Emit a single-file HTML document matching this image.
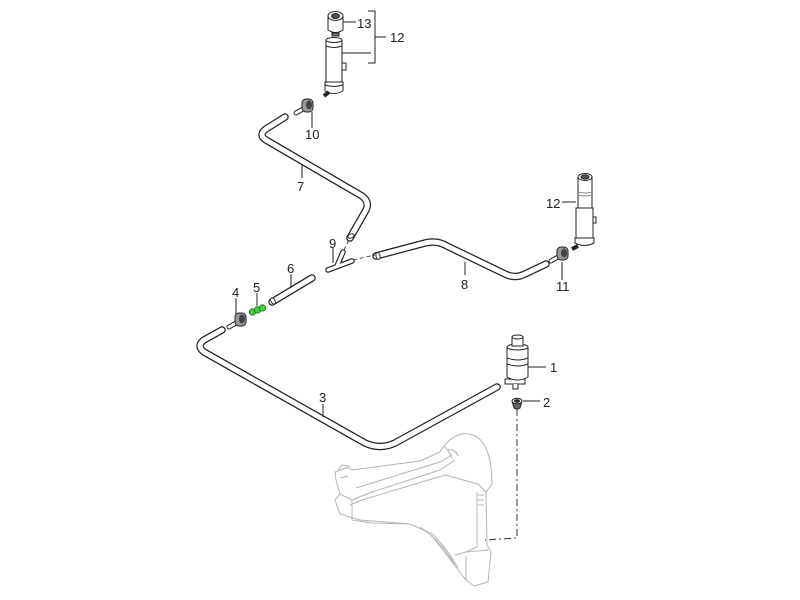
<!DOCTYPE html>
<html><head><meta charset="utf-8"><style>
html,body{margin:0;padding:0;background:#fff;}
svg{display:block}
text{font-family:"Liberation Sans",sans-serif;font-size:13px;fill:#222}
</style></head><body>
<svg width="800" height="600" viewBox="0 0 800 600" xmlns="http://www.w3.org/2000/svg">
<rect width="800" height="600" fill="#fff"/>

<!-- Reservoir (light gray) -->
<g fill="none" stroke="#b4b4b4" stroke-width="1" stroke-linejoin="round">
  <path d="M335,472 L348,467 L352,470 L420,461 L440,452 L444,446 Q452,436 462,434 Q478,432 486,448 Q492,462 492,484 L486,492 L487,545 L491,552 L488,582 L474,586 L466,580 L452,562 Q440,545 428,532 L410,524 L360,520 L340,514 L335,500 L340,494 L336,480 Z" fill="#fff"/>
  <path d="M340,494 L352,500 L352,520"/>
  <path d="M352,500 L372,492 L440,470 L455,460"/>
  <path d="M350,505 L362,500 L445,475 L478,484 L486,492"/>
  <path d="M356,488 L440,462 L452,455"/>
  <path d="M352,520 L372,523 L410,524"/>
  <path d="M477,492 L477,547 L466,552 L455,555"/>
  <path d="M466,552 L488,550"/>
  <path d="M466,580 L466,556"/>
  <path d="M420,527 Q440,540 455,565"/>
  <path d="M430,532 Q445,545 458,568"/>
  <path d="M444,446 Q450,452 452,458 M447,450 Q455,448 458,456"/>
  <path d="M338,470 L342,465 L350,466 M340,478 L348,476"/>
  <path d="M478,495 L484,495 M478,500 L484,500 M478,505 L484,505"/>
</g>
<!-- dashed line from grommet 2 -->
<path d="M517,409 L517,538 L485,540" fill="none" stroke="#333" stroke-width="1" stroke-dasharray="7,3,2,3"/>

<!-- Tubes -->
<g fill="none" stroke-linejoin="round" stroke-linecap="round">
  <g stroke="#222" stroke-width="7.5">
    <path d="M285,117 L266,129 Q258,135 266,140 L362,196 Q370,202 366,210 L350,238"/>
    <path d="M376,256 L425,243 Q437,240 447,246 L505,274 Q515,279 525,274 L546,264"/>
    <path d="M222,330 L204,340 Q196,346 204,352 L365,443 Q380,450 395,443 L497,387"/>
    <path d="M272,302 L312,278"/>
  </g>
  <g stroke="#fff" stroke-width="5">
    <path d="M285,117 L266,129 Q258,135 266,140 L362,196 Q370,202 366,210 L350,238"/>
    <path d="M376,256 L425,243 Q437,240 447,246 L505,274 Q515,279 525,274 L546,264"/>
    <path d="M222,330 L204,340 Q196,346 204,352 L365,443 Q380,450 395,443 L497,387"/>
    <path d="M272,302 L312,278"/>
  </g>
</g>
<g fill="#fff" stroke="#222" stroke-width="0.9">
  <ellipse cx="351" cy="236" rx="3.3" ry="2" transform="rotate(-20 351 236)"/>
  <ellipse cx="378" cy="256" rx="2" ry="3.5" transform="rotate(-15 378 256)"/>
  <ellipse cx="273" cy="301" rx="2" ry="3.4" transform="rotate(-30 273 301)"/>
</g>

<!-- Fitting 9 (Y connector) -->
<g fill="none" stroke-linecap="round">
  <path d="M328,270 L352,261 M337,266 L343,252" stroke="#222" stroke-width="5.5"/>
  <path d="M328,270 L352,261 M337,266 L343,252" stroke="#fff" stroke-width="3.2"/>
</g>
<path d="M353,260 L375,255 M344,250 L349,240" stroke="#444" stroke-width="1" stroke-dasharray="4,3" fill="none"/>

<!-- Fittings 10, 11, 4 -->
<g id="f10" transform="translate(307,106)">
  <path d="M-11,7 L-4,3" stroke="#222" stroke-width="5" stroke-linecap="round"/>
  <path d="M-11,7 L-4,3" stroke="#fff" stroke-width="3" stroke-linecap="round"/>
  <rect x="-5" y="-7" width="11" height="13" rx="4" fill="#999" stroke="#222"/>
  <ellipse cx="2" cy="-1" rx="3" ry="4.5" fill="#444"/>
</g>
<g transform="translate(562,254)">
  <path d="M-11,7 L-4,3" stroke="#222" stroke-width="5" stroke-linecap="round"/>
  <path d="M-11,7 L-4,3" stroke="#fff" stroke-width="3" stroke-linecap="round"/>
  <rect x="-5" y="-7" width="11" height="13" rx="4" fill="#999" stroke="#222"/>
  <ellipse cx="2" cy="-1" rx="3" ry="4.5" fill="#444"/>
</g>
<g transform="translate(240,320)">
  <path d="M-11,7 L-4,3" stroke="#222" stroke-width="5" stroke-linecap="round"/>
  <path d="M-11,7 L-4,3" stroke="#fff" stroke-width="3" stroke-linecap="round"/>
  <rect x="-5" y="-7" width="11" height="13" rx="4" fill="#999" stroke="#222"/>
  <ellipse cx="2" cy="-1" rx="3" ry="4.5" fill="#444"/>
</g>

<!-- Green part 5 -->
<g stroke="#1a6a1a" stroke-width="0.8" fill="#3fd23f">
  <circle cx="252.5" cy="312" r="3.2"/>
  <circle cx="257.5" cy="310" r="3.2"/>
  <circle cx="262.5" cy="308" r="3.2"/>
</g>

<!-- Top nozzle 12/13 -->
<g fill="#fff" stroke="#222" stroke-width="1">
  <path d="M328,16 L328,30 Q335.5,35 343,30 L343,16"/>
  <ellipse cx="335.5" cy="16" rx="7.5" ry="4.5"/>
  <ellipse cx="335.5" cy="16" rx="4" ry="2.5" fill="#555"/>
  <rect x="332" y="33" width="7" height="3" fill="#777"/>
  <path d="M326,40 L326,82 L342,82 L342,40"/>
  <ellipse cx="334" cy="40" rx="8" ry="2.5"/>
  <path d="M326,46 Q334,49 342,46" fill="none"/>
  <path d="M325,82 L325,91 Q334,96 343,91 L343,82 Z"/>
  <path d="M325,85 Q334,88 343,85" fill="none"/>
  <rect x="342" y="63" width="4" height="7"/>
  <path d="M324,96 L329,92" stroke-width="4" stroke="#222"/>
</g>
<!-- Right nozzle 12 -->
<g fill="#fff" stroke="#222" stroke-width="1">
  <path d="M578,177 L578,208 L592,208 L592,177"/>
  <ellipse cx="585" cy="177" rx="7" ry="3.5"/>
  <ellipse cx="585" cy="177" rx="4" ry="2" fill="#555"/>
  <path d="M578,192 Q585,194 592,192 M578,195 Q585,197 592,195" fill="none" stroke="#888"/>
  <path d="M576,208 L576,238 L593,238 L593,208 Z"/>
  <path d="M575,238 L575,243 Q584.5,248 594,243 L594,238 Z"/>
  <rect x="593" y="217" width="3" height="6"/>
  <path d="M572,249 L578,246" stroke-width="4" stroke="#222"/>
</g>

<!-- Pump 1 -->
<g fill="#fff" stroke="#222" stroke-width="1">
  <path d="M505,379 L525,379 L525,384 L505,384 Z"/>
  <path d="M513,384 L513,389 L518,389 L518,384"/>
  <path d="M507,347 L507,377 Q517.5,383 528,377 L528,347"/>
  <ellipse cx="517.5" cy="347" rx="10.5" ry="3"/>
  <path d="M507,358 Q517.5,362 528,358 M507,364 Q517.5,368 528,364" fill="none"/>
  <path d="M512,337 L512,346 L523,346 L523,337"/>
  <ellipse cx="517.5" cy="337" rx="5.5" ry="2"/>
</g>
<!-- Grommet 2 -->
<g stroke="#222" stroke-width="1">
  <path d="M512,401 L514,408 Q517,410 520,408 L522,401" fill="#666"/>
  <ellipse cx="517" cy="401" rx="5" ry="2.8" fill="#fff"/>
  <ellipse cx="517" cy="401" rx="2.5" ry="1.4" fill="#333"/>
</g>

<!-- Leader lines -->
<g stroke="#222" stroke-width="1" fill="none">
  <path d="M343,22 L356,22"/>
  <path d="M368,11 L375,11 L375,63 L368,63"/>
  <path d="M375,37 L386,37"/>
  <path d="M342,53 L371,53"/>
  <path d="M312,112 L312,128"/>
  <path d="M302,165 L302,178"/>
  <path d="M333,248 L333,263"/>
  <path d="M465,262 L465,275"/>
  <path d="M562,262 L562,280"/>
  <path d="M562,202 L576,202"/>
  <path d="M291,274 L291,288"/>
  <path d="M257,293 L257,306"/>
  <path d="M236,298 L236,315"/>
  <path d="M323,404 L323,417"/>
  <path d="M528,367 L546,367"/>
  <path d="M523,401 L540,401"/>
</g>

<!-- Labels -->
<text x="357" y="28">13</text>
<text x="390" y="42">12</text>
<text x="305" y="139">10</text>
<text x="297" y="191">7</text>
<text x="329" y="248">9</text>
<text x="461" y="289">8</text>
<text x="556" y="291">11</text>
<text x="546" y="208">12</text>
<text x="287" y="273">6</text>
<text x="253" y="292">5</text>
<text x="232" y="297">4</text>
<text x="319" y="402">3</text>
<text x="550" y="372">1</text>
<text x="543" y="407">2</text>
</svg>
</body></html>
